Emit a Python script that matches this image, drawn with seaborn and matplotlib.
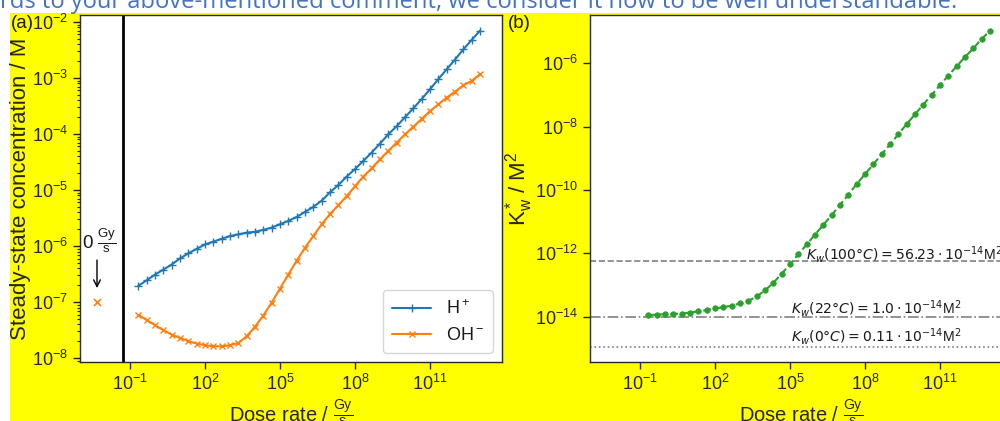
import numpy as np
import pandas as pd
import matplotlib
matplotlib.use("Agg")
import matplotlib.pyplot as plt
import seaborn as sns
from matplotlib.patches import Rectangle
from matplotlib.ticker import LogLocator, NullLocator, FixedLocator

# ---------------- data ----------------
dose_rate = [2.15e-1, 4.64e-1, 1e0, 2.15e0, 4.64e0, 1e1, 2.15e1, 4.64e1,
             1e2, 2.15e2, 4.64e2, 1e3, 2.15e3, 4.64e3, 1e4, 2.15e4, 4.64e4,
             1e5, 2.15e5, 4.64e5, 1e6, 2.15e6, 4.64e6, 1e7, 2.15e7, 4.64e7,
             1e8, 2.15e8, 4.64e8, 1e9, 2.15e9, 4.64e9, 1e10, 2.15e10, 4.64e10,
             1e11, 2.15e11, 4.64e11, 1e12, 2.15e12, 4.64e12, 1e13]

h_plus = [1.95e-7, 2.45e-7, 3.09e-7, 3.80e-7, 4.68e-7, 6.03e-7, 7.41e-7, 8.91e-7,
          1.07e-6, 1.20e-6, 1.35e-6, 1.51e-6, 1.62e-6, 1.74e-6, 1.80e-6, 1.95e-6,
          2.14e-6, 2.45e-6, 2.82e-6, 3.31e-6, 4.07e-6, 5.01e-6, 6.46e-6, 9.12e-6,
          1.23e-5, 1.74e-5, 2.37e-5, 3.31e-5, 4.68e-5, 6.76e-5, 9.89e-5, 1.38e-4,
          2.00e-4, 2.88e-4, 4.22e-4, 6.31e-4, 9.55e-4, 1.43e-3, 2.14e-3, 3.24e-3,
          4.79e-3, 7.00e-3]

oh_minus = [5.89e-8, 4.79e-8, 3.89e-8, 3.16e-8, 2.63e-8, 2.29e-8, 2.00e-8, 1.82e-8,
            1.70e-8, 1.62e-8, 1.62e-8, 1.70e-8, 1.86e-8, 2.45e-8, 3.63e-8, 5.75e-8,
            9.77e-8, 1.74e-7, 3.09e-7, 5.50e-7, 9.33e-7, 1.51e-6, 2.45e-6, 3.72e-6,
            5.37e-6, 7.76e-6, 1.17e-5, 1.74e-5, 2.45e-5, 3.55e-5, 5.01e-5, 7.00e-5,
            9.89e-5, 1.35e-4, 1.86e-4, 2.57e-4, 3.39e-4, 4.47e-4, 5.69e-4, 7.41e-4,
            8.91e-4, 1.17e-3]

kw_star = [1.12e-14, 1.17e-14, 1.20e-14, 1.23e-14, 1.26e-14, 1.35e-14, 1.48e-14,
           1.62e-14, 1.82e-14, 2.00e-14, 2.24e-14, 2.63e-14, 3.16e-14, 4.37e-14,
           6.76e-14, 1.17e-13, 2.29e-13, 4.47e-13, 9.33e-13, 1.91e-12, 3.89e-12,
           7.94e-12, 1.62e-11, 3.39e-11, 7.08e-11, 1.55e-10, 3.16e-10, 6.46e-10,
           1.35e-9, 2.75e-9, 5.75e-9, 1.20e-8, 2.45e-8, 5.01e-8, 1.00e-7, 2.04e-7,
           4.07e-7, 8.13e-7, 1.58e-6, 2.95e-6, 5.89e-6, 1.07e-5]

zero_dose_oh = 1.0e-7

kw_ref_values = [5.623e-13, 1.0e-14, 1.1e-15]
kw_ref_labels = [r"$K_w(100°C) = 56.23 \cdot 10^{-14}$M$^2$",
                 r"$K_w(22°C) = 1.0 \cdot 10^{-14}$M$^2$",
                 r"$K_w(0°C) = 0.11 \cdot 10^{-14}$M$^2$"]
kw_ref_styles = ["--", "-.", ":"]

xticks = [1e-1, 1e2, 1e5, 1e8, 1e11]
b_yticks = [1e-14, 1e-12, 1e-10, 1e-8, 1e-6]

df = pd.DataFrame({"dose": dose_rate, "H": h_plus, "OH": oh_minus, "Kw": kw_star})

# ---------------- style ----------------
sns.set_theme(style="ticks")
plt.rcParams.update({
    "font.family": ["Liberation Sans", "DejaVu Sans"],
    "mathtext.fontset": "custom",
    "mathtext.rm": "Liberation Sans",
    "mathtext.it": "Liberation Sans:italic",
    "mathtext.bf": "Liberation Sans:bold",
    "axes.edgecolor": "0.15",
    "axes.linewidth": 1.0,
    "xtick.color": "0.15",
    "ytick.color": "0.15",
    "text.color": "0.1",
})

fig = plt.figure(figsize=(10, 4.21), dpi=100)
fig.patch.set_facecolor("white")
fig.patches.append(Rectangle((0.010, 0.0), 0.99, 1 - 13 / 421,
                             transform=fig.transFigure, facecolor="#FFFF00",
                             edgecolor="none", zorder=-10))

fig.text(0.0, 1 - 8 / 421,
         "rds to your above-mentioned comment, we consider it now to be well understandable.",
         color="#4472C4", fontsize=17.1, va="baseline", ha="left",
         family=["Open Sans", "DejaVu Sans"])

ax_a = fig.add_axes([0.080, 0.1401, 0.422, 0.8242])
ax_b = fig.add_axes([0.590, 0.1401, 0.422, 0.8242])

blue, orange, green = "#1f77b4", "#ff7f0e", "#2ca02c"

# ---------------- panel (a) ----------------
sns.lineplot(data=df, x="dose", y="H", ax=ax_a, color=blue, marker="+",
             markersize=6, markeredgecolor=blue, markeredgewidth=1.0,
             linewidth=1.5, label=r"H$^+$", sort=False, estimator=None)
sns.lineplot(data=df, x="dose", y="OH", ax=ax_a, color=orange, marker="x",
             markersize=5, markeredgecolor=orange, markeredgewidth=1.0,
             linewidth=1.5, label=r"OH$^-$", sort=False, estimator=None)

x_zero = 10 ** -2.32
sns.scatterplot(x=[x_zero], y=[zero_dose_oh], ax=ax_a, marker="x", color=orange,
                s=25, linewidth=1.2, legend=False)

ax_a.set_xscale("log")
ax_a.set_yscale("log")
ax_a.set_xlim(1e-3, 10 ** 13.88)
ax_a.set_ylim(10 ** -8.07, 10 ** -1.875)
ax_a.axvline(10 ** -1.28, color="black", linewidth=2.0)

ax_a.text(10 ** -2.92, 10 ** -5.9, r"0 $\frac{\mathrm{Gy}}{\mathrm{s}}$",
          fontsize=13.5, ha="left", va="center")
ax_a.annotate("", xy=(x_zero, 10 ** -6.8), xytext=(x_zero, 10 ** -6.2),
              arrowprops=dict(arrowstyle="->", color="black", lw=1.0))

ax_a.xaxis.set_major_locator(FixedLocator(xticks))
ax_a.xaxis.set_minor_locator(NullLocator())
ax_a.yaxis.set_major_locator(LogLocator(base=10, numticks=20))
ax_a.yaxis.set_minor_locator(LogLocator(base=10, subs=np.arange(2, 10), numticks=20))

ax_a.set_xlabel(r"Dose rate / $\frac{\mathrm{Gy}}{\mathrm{s}}$", fontsize=14.5, labelpad=2)
ax_a.set_ylabel("Steady-state concentration / M", fontsize=16)
ax_a.yaxis.set_label_coords(-0.117, 0.5)
leg = ax_a.legend(loc="lower right", fontsize=13, frameon=True, handlelength=2.2,
                  borderpad=0.5, labelspacing=0.5)
leg.get_frame().set_edgecolor("0.8")

# ---------------- panel (b) ----------------
sns.lineplot(data=df, x="dose", y="Kw", ax=ax_b, color=green, marker="o",
             markersize=4, markeredgecolor=green, markeredgewidth=0.5,
             linewidth=1.5, linestyle="--", sort=False, estimator=None)

for val, ls in zip(kw_ref_values, kw_ref_styles):
    ax_b.axhline(val, color="0.5", linestyle=ls, linewidth=1.2, zorder=1)

ax_b.set_xscale("log")
ax_b.set_yscale("log")
ax_b.set_xlim(1e-3, 10 ** 13.88)
ax_b.set_ylim(10 ** -15.43, 10 ** -4.475)

text_pos = [(10 ** 5.64, 10 ** -12.2), (10 ** 5.04, 10 ** -13.9), (10 ** 5.04, 10 ** -14.78)]
for (tx, ty), lab in zip(text_pos, kw_ref_labels):
    ax_b.text(tx, ty, lab, fontsize=10.1, ha="left", va="baseline",
              color="0.1", math_fontfamily="dejavusans")

ax_b.xaxis.set_major_locator(FixedLocator(xticks))
ax_b.xaxis.set_minor_locator(NullLocator())
ax_b.yaxis.set_major_locator(FixedLocator(b_yticks))
ax_b.yaxis.set_minor_locator(NullLocator())

ax_b.set_xlabel(r"Dose rate / $\frac{\mathrm{Gy}}{\mathrm{s}}$", fontsize=14.5, labelpad=2)
ax_b.set_ylabel(r"K$_\mathrm{w}^*$ / M$^2$", fontsize=16)
ax_b.yaxis.set_label_coords(-0.13, 0.5)

for ax in (ax_a, ax_b):
    ax.set_facecolor("white")
    ax.tick_params(which="major", direction="out", length=5, width=1.0, labelsize=13)
    ax.tick_params(which="minor", direction="out", length=2.5, width=0.8)
    for sp in ax.spines.values():
        sp.set_visible(True)

fig.text(0.011, 1 - 28 / 421, "(a)", fontsize=13.5, va="baseline", ha="left")
fig.text(0.508, 1 - 28 / 421, "(b)", fontsize=13.5, va="baseline", ha="left")

fig.savefig("out.png", dpi=100, facecolor=fig.get_facecolor())
